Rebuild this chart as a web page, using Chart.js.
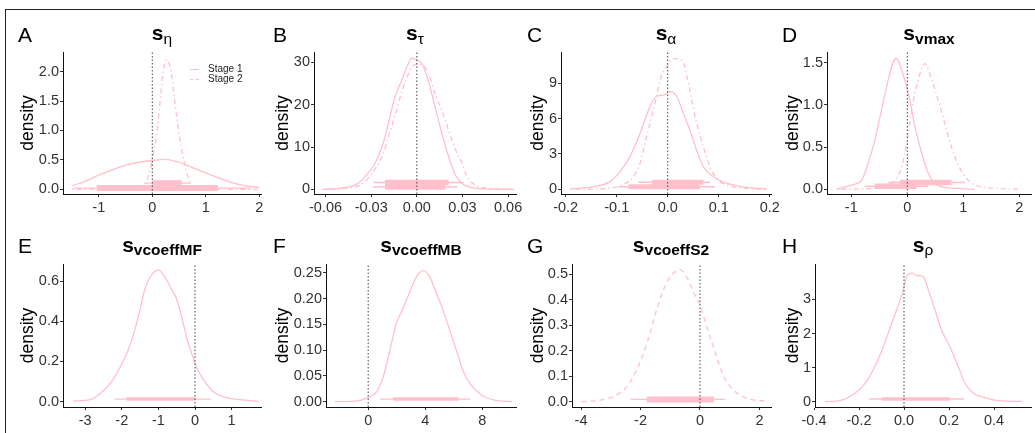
<!DOCTYPE html>
<html><head><meta charset="utf-8">
<script src="https://cdn.jsdelivr.net/npm/chart.js@4.4.0/dist/chart.umd.min.js"></script>
<style>
html,body{margin:0;padding:0;background:#fff;}
body{width:1035px;height:433px;overflow:hidden;position:relative;font-family:"Liberation Sans",Arial,sans-serif;}
.frame{position:absolute;left:5px;top:9px;width:1100px;height:500px;border-top:1.5px solid #222;border-left:1.5px solid #222;}
canvas{position:absolute;}
.lt{position:absolute;font-size:21px;line-height:1;color:#000;}
.tt{position:absolute;font-size:21px;line-height:1;color:#000;white-space:nowrap;transform:translateX(-50%);font-weight:bold;}
.tt .sub{font-size:15.5px;position:relative;top:3.5px;}
.tt .g{font-weight:normal;}
.lg{position:absolute;font-size:10px;line-height:10px;color:#222;}
.key{position:absolute;width:9px;height:0;}
</style>
</head><body>
<div class="frame"></div>
<script>
// ---------- data ----------
// Panel A (s_eta)
const aX1 = [-1.5,-1.25,-1.0,-0.75,-0.5,-0.25,0,0.25,0.5,0.75,1.0,1.25,1.5,1.75,2.0];
const aY1 = [0.06,0.14,0.24,0.33,0.41,0.46,0.49,0.51,0.46,0.37,0.28,0.19,0.11,0.06,0.03];
const aX2 = [-1.5,-0.5,-0.3,-0.2,-0.1,0,0.1,0.2,0.27,0.35,0.4,0.5,0.6,0.7,0.8,0.9,1.0,1.5,2.0];
const aY2 = [0,0.005,0.01,0.03,0.15,0.5,1.06,1.98,2.2,2.0,1.64,0.95,0.45,0.13,0.03,0.01,0.005,0.001,0];
// Panel B (s_tau)
const bX1 = [-0.062,-0.05,-0.04,-0.034,-0.0275,-0.022,-0.0187,-0.0143,-0.0099,-0.0055,-0.0033,0,0.0033,0.0077,0.012,0.0165,0.0209,0.0253,0.03,0.034,0.045,0.064];
const bY1 = [0,0.3,1.1,3.0,6.1,11,15.6,21.9,25.8,29.8,31.0,30.6,29.8,25.5,19.5,13.2,7.7,3.4,1.3,0.6,0.1,0];
const bX2 = [-0.06,-0.045,-0.035,-0.028,-0.022,-0.0187,-0.0143,-0.0099,-0.0033,0.001,0.005,0.0077,0.012,0.0165,0.0209,0.0253,0.0297,0.033,0.0385,0.045,0.064];
const bY2 = [0,0.3,1.5,4.5,8.5,12.4,17.5,23,28.8,29.6,29.0,27.4,22.7,18.5,14,9.5,6.1,3,1.0,0.3,0];
// Panel C (s_alpha)
const cX1 = [-0.1915,-0.146,-0.113,-0.0935,-0.074,-0.054,-0.035,-0.0216,-0.0086,0.0045,0.0176,0.0307,0.0437,0.0569,0.07,0.0894,0.109,0.148,0.194];
const cY1 = [0.02,0.22,0.65,1.5,2.77,4.75,7.0,7.9,8.0,8.3,7.9,6.45,5.0,3.3,1.9,1.07,0.6,0.2,0.02];
const cX2 = [-0.19,-0.113,-0.087,-0.0674,-0.0543,-0.0412,-0.0282,-0.0118,-0.002,0.011,0.024,0.0307,0.037,0.047,0.0569,0.07,0.083,0.0961,0.1157,0.148,0.194];
const cY2 = [0,0.1,0.4,1.07,2.2,4.5,6.7,9.7,10.4,11.1,11.0,10.8,9.7,7.6,5.6,3.6,1.9,0.9,0.35,0.1,0];
// Panel D (s_vmax)
const dX1 = [-1.26,-0.99,-0.81,-0.7,-0.58,-0.46,-0.34,-0.25,-0.19,-0.1,0.018,0.137,0.257,0.375,0.49,0.61,0.9,1.2];
const dY1 = [0,0.05,0.11,0.31,0.58,0.94,1.30,1.51,1.55,1.41,1.14,0.74,0.43,0.19,0.07,0.03,0.01,0.0];
const dX2 = [-1.26,-0.6,-0.34,-0.19,-0.1,-0.01,0.078,0.196,0.316,0.435,0.55,0.67,0.79,0.91,1.03,1.21,1.625,2.04];
const dY2 = [0,0.01,0.05,0.13,0.27,0.55,0.94,1.3,1.49,1.3,1.06,0.78,0.50,0.29,0.15,0.05,0.01,0];
// Panel E (s_vcoeffMF)
const eX = [-3.33,-2.87,-2.6,-2.32,-2.05,-1.82,-1.64,-1.5,-1.37,-1.23,-1.0,-0.82,-0.64,-0.5,-0.36,-0.23,-0.09,0.046,0.23,0.5,0.87,1.23,1.73];
const eY = [0.003,0.01,0.04,0.09,0.17,0.26,0.36,0.46,0.56,0.62,0.655,0.62,0.56,0.51,0.42,0.32,0.24,0.17,0.11,0.05,0.02,0.01,0.002];
// Panel F (s_vcoeffMB)
const fX = [-2.33,-0.93,0,0.59,1.05,1.52,1.98,2.45,2.92,3.38,3.85,4.31,4.78,5.24,5.71,6.18,6.64,7.11,7.93,8.86,10.1];
const fY = [0,0.001,0.008,0.019,0.048,0.1,0.152,0.181,0.213,0.242,0.254,0.242,0.21,0.178,0.139,0.1,0.061,0.036,0.013,0.003,0];
// Panel G (s_vcoeffS2)
const gX = [-3.98,-3.25,-2.8,-2.46,-2.13,-1.9,-1.68,-1.46,-1.23,-1.0,-0.67,-0.45,-0.225,0,0.225,0.45,0.67,0.9,1.23,1.68,2.3];
const gY = [0,0.008,0.026,0.059,0.124,0.19,0.268,0.36,0.438,0.49,0.517,0.49,0.431,0.379,0.294,0.216,0.137,0.078,0.035,0.01,0.002];
// Panel H (s_rho)
const hX = [-0.351,-0.277,-0.218,-0.173,-0.129,-0.092,-0.055,-0.025,-0.003,0.012,0.034,0.056,0.086,0.108,0.138,0.167,0.204,0.241,0.271,0.308,0.36,0.419,0.523];
const hY = [0,0.05,0.25,0.54,1.03,1.61,2.3,2.84,3.28,3.67,3.77,3.7,3.67,3.28,2.69,2.1,1.61,1.03,0.54,0.25,0.12,0.03,0.01];

// intervals: [level y, thin lo, thin hi, thick lo, thick hi]
const aInt1 = [0.02,-1.48,1.85,-1.04,1.23];
const aInt2 = [0.105,-0.15,0.72,0.0,0.55];
const bInt1 = [0.55,-0.029,0.0264,-0.0209,0.0187];
const bInt2 = [1.6,-0.0286,0.0308,-0.0209,0.0209];
const cInt1 = [0.22,-0.096,0.093,-0.077,0.0633];
const cInt2 = [0.6,-0.0576,0.083,-0.031,0.07];
const dInt1 = [0.035,-0.76,0.375,-0.58,0.167];
const dInt2 = [0.08,-0.34,1.03,-0.13,0.79];
const eInt = [0.013,-2.19,0.43,-1.87,0.0];
const fInt = [0.005,0.82,7.16,1.75,6.34];
const gInt = [0.009,-2.33,0.84,-1.79,0.47];
const hInt = [0.08,-0.156,0.267,-0.099,0.204];

// tick values and labels
const aXt = [-1,0,1,2], aXl = ['-1','0','1','2'];
const aYt = [0,0.5,1,1.5,2], aYl = ['0.0','0.5','1.0','1.5','2.0'];
const bXt = [-0.06,-0.03,0,0.03,0.06], bXl = ['-0.06','-0.03','0.00','0.03','0.06'];
const bYt = [0,10,20,30], bYl = ['0','10','20','30'];
const cXt = [-0.2,-0.1,0,0.1,0.2], cXl = ['-0.2','-0.1','0.0','0.1','0.2'];
const cYt = [0,3,6,9], cYl = ['0','3','6','9'];
const dXt = [-1,0,1,2], dXl = ['-1','0','1','2'];
const dYt = [0,0.5,1,1.5], dYl = ['0.0','0.5','1.0','1.5'];
const eXt = [-3,-2,-1,0,1], eXl = ['-3','-2','-1','0','1'];
const eYt = [0,0.2,0.4,0.6], eYl = ['0.0','0.2','0.4','0.6'];
const fXt = [0,4,8], fXl = ['0','4','8'];
const fYt = [0,0.05,0.1,0.15,0.2,0.25], fYl = ['0.00','0.05','0.10','0.15','0.20','0.25'];
const gXt = [-4,-2,0,2], gXl = ['-4','-2','0','2'];
const gYt = [0,0.1,0.2,0.3,0.4,0.5], gYl = ['0.0','0.1','0.2','0.3','0.4','0.5'];
const hXt = [-0.4,-0.2,0,0.2,0.4], hXl = ['-0.4','-0.2','0.0','0.2','0.4'];
const hYt = [0,1,2,3], hYl = ['0','1','2','3'];

// ---------- drawing ----------
const PINK = '#FFC0CB';
const FONT = '"Liberation Sans", Arial, sans-serif';
const DOTDASH = [1.5,3,5,3];
const DASHED = [5,4];

function pts(xs, ys){ return xs.map((x,i)=>({x:x, y:ys[i]})); }

function intervalSets(iv, thickW, thinW){
  return [
    {data:[{x:iv[3],y:iv[0]},{x:iv[4],y:iv[0]}], borderColor:PINK, borderWidth:thickW, borderCapStyle:'butt', pointRadius:0},
    {data:[{x:iv[1],y:iv[0]},{x:iv[2],y:iv[0]}], borderColor:PINK, borderWidth:thinW, borderCapStyle:'butt', pointRadius:0}
  ];
}

function panel(p){
  const PT = 16, PR = 26, HX = 30;
  const left = Math.round(p.densX - 10.5);
  const Wy = p.plotL - left;
  const top = p.plotT - PT;
  const w = Math.round(p.plotR - left + PR);
  const h = PT + (p.plotB - p.plotT) + HX;
  const cv = document.createElement('canvas');
  cv.width = w; cv.height = h;
  cv.style.left = left + 'px'; cv.style.top = top + 'px';
  cv.style.width = w + 'px'; cv.style.height = h + 'px';
  document.body.appendChild(cv);

  const ds = [];
  ds.push({data:[{x:0,y:p.ymin},{x:0,y:p.ymax}], borderColor:'#444', borderWidth:1, borderDash:[1.5,2], pointRadius:0});
  p.intervals.forEach(iv => intervalSets(iv, p.thick, 1.4).forEach(d=>ds.push(d)));
  p.curves.forEach(c => ds.push({data:pts(c.x,c.y), borderColor:PINK, borderWidth:1.3, borderDash:c.dash||[], pointRadius:0, cubicInterpolationMode:'monotone'}));

  new Chart(cv, {
    type:'line',
    data:{datasets:ds},
    options:{
      responsive:false, animation:false, devicePixelRatio:1,
      layout:{padding:{top:PT,right:PR,left:0,bottom:0}},
      plugins:{legend:{display:false}, tooltip:{enabled:false}, title:{display:false}},
      elements:{line:{fill:false}},
      scales:{
        x:{type:'linear', min:p.xmin, max:p.xmax,
          afterBuildTicks:s=>{ s.ticks = p.xt.map(v=>({value:v})); },
          afterFit:s=>{ s.height = HX; },
          ticks:{autoSkip:false, maxRotation:0, padding:2, color:'#333', font:{size:14.5, family:FONT}, callback:(v,i)=>p.xl[i]},
          grid:{drawOnChartArea:false, drawTicks:true, tickLength:3, tickColor:'#333', color:'#333'},
          border:{display:true, color:'#111', width:1}
        },
        y:{type:'linear', min:p.ymin, max:p.ymax,
          afterBuildTicks:s=>{ s.ticks = p.yt.map(v=>({value:v})); },
          afterFit:s=>{ s.width = Wy; },
          ticks:{autoSkip:false, padding:1, color:'#333', font:{size:14.5, family:FONT}, callback:(v,i)=>p.yl[i]},
          grid:{drawOnChartArea:false, drawTicks:true, tickLength:3, tickColor:'#333', color:'#333'},
          border:{display:true, color:'#111', width:1},
          title:{display:true, text:'density', color:'#000', padding:0, font:{size:17.5, family:FONT}}
        }
      }
    }
  });
}

const T1 = 52, B1 = 194, T2 = 264, B2 = 407;
panel({densX:28, plotL:63, plotR:261, plotT:T1, plotB:B1, xmin:-1.669, xmax:2.032, ymin:-0.080, ymax:2.335,
  xt:aXt, xl:aXl, yt:aYt, yl:aYl, thick:6, intervals:[aInt1, aInt2],
  curves:[{x:aX1,y:aY1},{x:aX2,y:aY2,dash:DOTDASH}]});
panel({densX:283, plotL:314, plotR:516, plotT:T1, plotB:B1, xmin:-0.0676, xmax:0.0652, ymin:-1.11, ymax:32.46,
  xt:bXt, xl:bXl, yt:bYt, yl:bYl, thick:5.5, intervals:[bInt1, bInt2],
  curves:[{x:bX1,y:bY1},{x:bX2,y:bY2,dash:DOTDASH}]});
panel({densX:538, plotL:561, plotR:771, plotT:T1, plotB:B1, xmin:-0.2092, xmax:0.2025, ymin:-0.40, ymax:11.66,
  xt:cXt, xl:cXl, yt:cYt, yl:cYl, thick:5, intervals:[cInt1, cInt2],
  curves:[{x:cX1,y:cY1},{x:cX2,y:cY2,dash:DOTDASH}]});
panel({densX:793, plotL:827, plotR:1031, plotT:T1, plotB:B1, xmin:-1.434, xmax:2.209, ymin:-0.056, ymax:1.627,
  xt:dXt, xl:dXl, yt:dYt, yl:dYl, thick:5.5, intervals:[dInt1, dInt2],
  curves:[{x:dX1,y:dY1},{x:dX2,y:dY2,dash:DOTDASH}]});
panel({densX:28, plotL:63, plotR:261, plotT:T2, plotB:B2, xmin:-3.607, xmax:1.803, ymin:-0.0264, ymax:0.685,
  xt:eXt, xl:eXl, yt:eYt, yl:eYl, thick:3.5, intervals:[eInt],
  curves:[{x:eX,y:eY}]});
panel({densX:283, plotL:326, plotR:516, plotT:T2, plotB:B2, xmin:-2.958, xmax:10.36, ymin:-0.0103, ymax:0.2669,
  xt:fXt, xl:fXl, yt:fYt, yl:fYl, thick:3.5, intervals:[fInt],
  curves:[{x:fX,y:fY}]});
panel({densX:538, plotL:572, plotR:771, plotT:T2, plotB:B2, xmin:-4.303, xmax:2.387, ymin:-0.0208, ymax:0.54,
  xt:gXt, xl:gXl, yt:gYt, yl:gYl, thick:6, intervals:[gInt],
  curves:[{x:gX,y:gY,dash:DASHED}]});
panel({densX:793, plotL:815, plotR:1031, plotT:T2, plotB:B2, xmin:-0.3956, xmax:0.5644, ymin:-0.155, ymax:4.038,
  xt:hXt, xl:hXl, yt:hYt, yl:hYl, thick:3.5, intervals:[hInt],
  curves:[{x:hX,y:hY}]});

// ---------- text overlays ----------
function addDiv(cls, html, left, top){
  const d = document.createElement('div');
  d.className = cls; d.innerHTML = html;
  d.style.left = left + 'px'; d.style.top = top + 'px';
  document.body.appendChild(d);
}
const letters = ['A','B','C','D','E','F','G','H'];
const letterX = [18,273,527,782];
letters.forEach((L,i)=> addDiv('lt', L, letterX[i%4], i<4 ? 23.7 : 235.2));
const titles = [
  ['<span class="g sub">η</span>', 162],
  ['<span class="g sub">τ</span>', 415],
  ['<span class="g sub">α</span>', 666],
  ['<span class="sub">vmax</span>', 929],
  ['<span class="sub">vcoeffMF</span>', 162],
  ['<span class="sub">vcoeffMB</span>', 421],
  ['<span class="sub">vcoeffS2</span>', 671],
  ['<span class="g sub">ρ</span>', 923]
];
titles.forEach((t,i)=> addDiv('tt', 's' + t[0], t[1], i<4 ? 22.2 : 233.9));
// legend (panel A)
function key(left, top, style){
  const k = document.createElement('div');
  k.className = 'key'; k.style.left = left+'px'; k.style.top = top+'px';
  k.style.borderTop = style; document.body.appendChild(k);
}
key(190, 69, '1.3px solid ' + PINK);
key(190, 79, '1.3px dashed ' + PINK);
addDiv('lg', 'Stage 1', 208, 64);
addDiv('lg', 'Stage 2', 208, 74);
</script>
</body></html>
